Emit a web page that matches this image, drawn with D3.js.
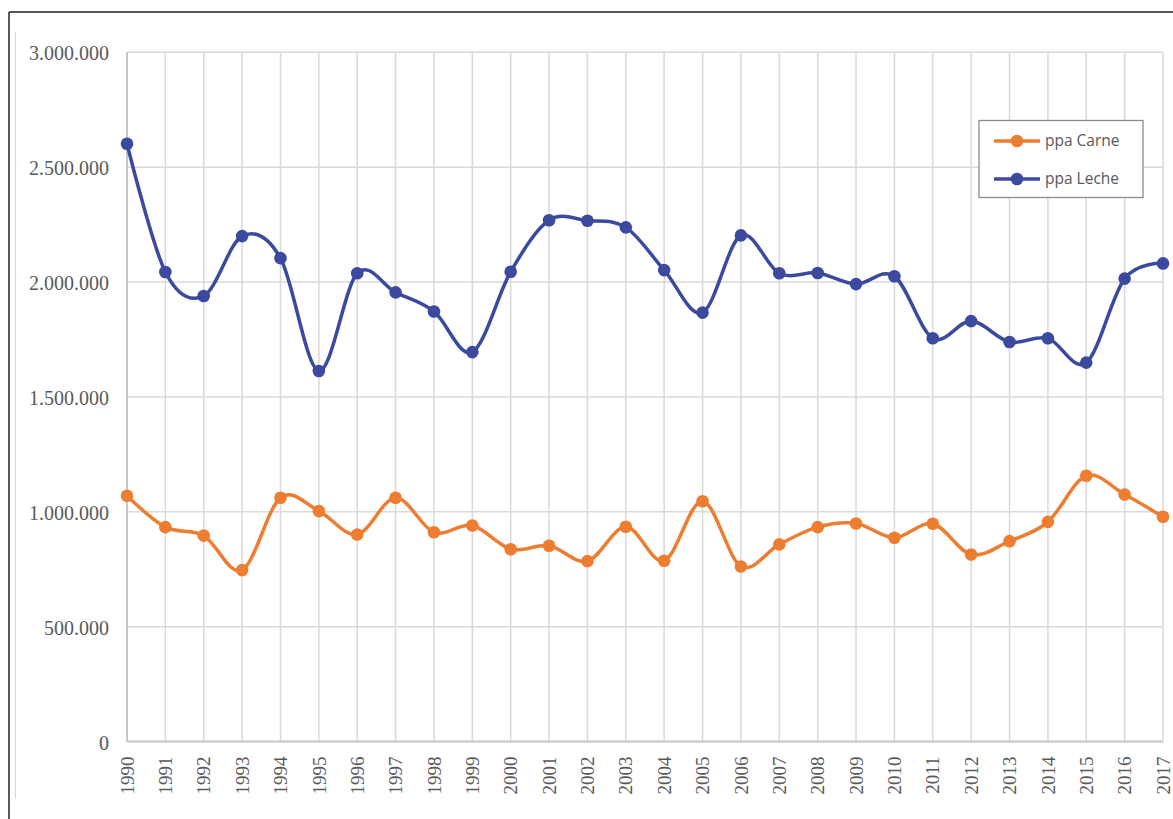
<!DOCTYPE html>
<html>
<head>
<meta charset="utf-8">
<script src="https://cdnjs.cloudflare.com/ajax/libs/d3/7.8.5/d3.min.js"></script>
<style>
  html, body { margin: 0; padding: 0; background: #fff; }
  svg { display: block; }
</style>
</head>
<body>
<script>
const years = [1990,1991,1992,1993,1994,1995,1996,1997,1998,1999,2000,2001,2002,2003,2004,2005,2006,2007,2008,2009,2010,2011,2012,2013,2014,2015,2016,2017];
const ppaCarne = [1070000,933000,896000,746000,1061000,1003000,901000,1061000,911000,940000,837000,852000,785000,935000,787000,1046000,762000,858000,933000,949000,887000,948000,814000,872000,956000,1157000,1075000,978000];
const ppaLeche = [2602000,2044000,1939000,2200000,2104000,1613000,2038000,1955000,1872000,1695000,2045000,2269000,2267000,2238000,2052000,1867000,2203000,2038000,2039000,1991000,2025000,1755000,1830000,1739000,1755000,1649000,2015000,2081000];
const yTicks = [0,500000,1000000,1500000,2000000,2500000,3000000];
const seriesNames = ["ppa Carne","ppa Leche"];
const seriesColors = ["#ED7D31","#3B4A9E"];

const W = 1173, H = 819;
const svg = d3.select("body").append("svg").attr("width", W).attr("height", H);

// frame
svg.append("line").attr("x1",9).attr("x2",9).attr("y1",12).attr("y2",H).attr("stroke","#222").attr("stroke-width",1.5);
svg.append("line").attr("x1",9).attr("x2",W).attr("y1",12).attr("y2",12).attr("stroke","#222").attr("stroke-width",1.5);
svg.append("line").attr("x1",15.5).attr("x2",15.5).attr("y1",32).attr("y2",799).attr("stroke","#d9d9d9").attr("stroke-width",1.2);

const x = d3.scaleLinear().domain([1990,2017]).range([127,1163]);
const y = d3.scaleLinear().domain([0,3000000]).range([741.5,52.3]);

const fmt = v => v === 0 ? "0" : d3.format(",")(v).replace(/,/g, ".");

// gridlines
const g = svg.append("g");
g.selectAll("line.h").data(yTicks.filter(d => d > 0)).join("line")
  .attr("x1", x(1990)).attr("x2", x(2017))
  .attr("y1", d => y(d)).attr("y2", d => y(d))
  .attr("stroke","#d9d9d9").attr("stroke-width",1.5);
g.selectAll("line.v").data(years.slice(1)).join("line")
  .attr("x1", d => x(d)).attr("x2", d => x(d))
  .attr("y1", y(3000000)).attr("y2", y(0))
  .attr("stroke","#d9d9d9").attr("stroke-width",1.5);

// axes lines
svg.append("line").attr("x1",x(1990)).attr("x2",x(1990)).attr("y1",y(3000000)).attr("y2",y(0)).attr("stroke","#c6c6c6").attr("stroke-width",2);
svg.append("line").attr("x1",x(1990)).attr("x2",x(2017)).attr("y1",y(0)).attr("y2",y(0)).attr("stroke","#c6c6c6").attr("stroke-width",2);

// y labels
svg.append("g").selectAll("text").data(yTicks).join("text")
  .attr("x", 109).attr("y", d => y(d)).attr("dy","0.4em")
  .attr("text-anchor","end")
  .attr("font-family","'Liberation Serif', 'Times New Roman', serif")
  .attr("font-size",20).attr("fill","#595959")
  .text(fmt);

// x labels
svg.append("g").selectAll("text").data(years).join("text")
  .attr("transform", d => `translate(${x(d)},${y(0)+15}) rotate(-90)`)
  .attr("text-anchor","end").attr("dy","0.35em")
  .attr("font-family","'Liberation Serif', 'Times New Roman', serif")
  .attr("font-size",19).attr("fill","#595959")
  .text(d => d);

// series
const series = [ppaCarne, ppaLeche];
const line = d3.line().x((d,i) => x(years[i])).y(d => y(d)).curve(d3.curveCardinal.tension(0));
series.forEach((vals, si) => {
  svg.append("path").datum(vals).attr("d", line)
    .attr("fill","none").attr("stroke", seriesColors[si]).attr("stroke-width",3.5)
    .attr("stroke-linejoin","round");
  svg.append("g").selectAll("circle").data(vals).join("circle")
    .attr("cx",(d,i)=>x(years[i])).attr("cy",d=>y(d)).attr("r",6.3)
    .attr("fill", seriesColors[si]);
});

// legend
const lg = svg.append("g");
lg.append("rect").attr("x",979).attr("y",120.5).attr("width",164).attr("height",77)
  .attr("fill","#fff").attr("stroke","#8c8c8c").attr("stroke-width",1.3);
seriesNames.forEach((n, i) => {
  const cy = 141 + i*38;
  lg.append("line").attr("x1",994).attr("x2",1040).attr("y1",cy).attr("y2",cy)
    .attr("stroke",seriesColors[i]).attr("stroke-width",3.5);
  lg.append("circle").attr("cx",1017).attr("cy",cy).attr("r",6.3).attr("fill",seriesColors[i]);
  lg.append("text").attr("x",1045).attr("y",cy).attr("dy","0.35em")
    .attr("font-family","'Open Sans', 'Noto Sans', sans-serif").attr("font-size",15.5)
    .attr("fill","#595959").text(n);
});
</script>
</body>
</html>
